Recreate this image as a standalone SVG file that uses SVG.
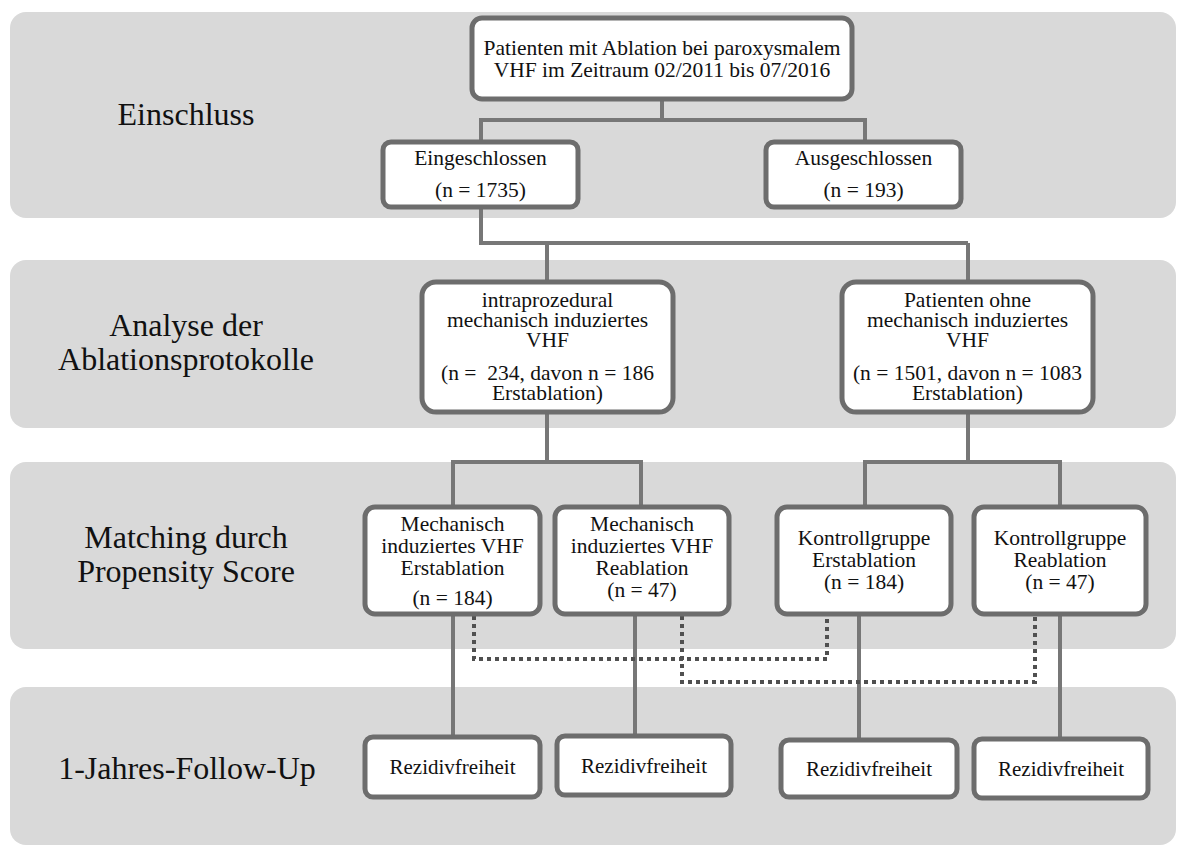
<svg xmlns="http://www.w3.org/2000/svg" width="1178" height="846" viewBox="0 0 1178 846">
<style>
.band{fill:#d9d9d9;}
.box{fill:#ffffff;stroke:#6d6d6d;stroke-width:5;}
.lbl{font-family:"Liberation Serif","Times New Roman",serif;font-size:32px;fill:#111;text-anchor:middle;}
.t{font-family:"Liberation Serif","Times New Roman",serif;font-size:21.5px;fill:#111;text-anchor:middle;}
.r{font-family:"Liberation Serif","Times New Roman",serif;font-size:21px;fill:#111;text-anchor:middle;}
.ln{fill:none;stroke:#777777;stroke-width:4;}
.dot{fill:none;stroke:#505050;stroke-width:4;stroke-dasharray:4 4;}
</style>
<rect width="1178" height="846" fill="#ffffff"/>
<g id="bands">
<rect class="band" x="10" y="12" width="1166" height="206" rx="16"/>
<rect class="band" x="10" y="260" width="1166" height="168" rx="16"/>
<rect class="band" x="10" y="462" width="1166" height="187" rx="16"/>
<rect class="band" x="10" y="687" width="1166" height="158" rx="16"/>
</g>
<g id="labels">
<text class="lbl" x="186" y="125">Einschluss</text>
<text class="lbl" x="186" y="336">Analyse der</text>
<text class="lbl" x="186" y="370">Ablationsprotokolle</text>
<text class="lbl" x="186" y="548">Matching durch</text>
<text class="lbl" x="186" y="582">Propensity Score</text>
<text class="lbl" x="187" y="779">1-Jahres-Follow-Up</text>
</g>
<g id="connectors">
<path class="ln" d="M662,99 V120 M481,142 V120 H865 V142"/>
<path class="ln" d="M481,207 V243 H968 M547,243 V282 M968,243 V282"/>
<path class="ln" d="M547,412 V462 M453,507 V462 H641 V507"/>
<path class="ln" d="M968,412 V462 M865,507 V462 H1060 V507"/>
<path class="ln" d="M453,614 V737 M635,614 V736 M859,614 V740 M1060,614 V739"/>
<path class="dot" d="M474,616 V659 H827 V616"/>
<path class="dot" d="M682,616 V682 H1035 V616"/>
</g>
<g id="n-start">
<rect class="box" x="472" y="18" width="380" height="81" rx="10"/>
<text class="t" x="662" y="55">Patienten mit Ablation bei paroxysmalem</text>
<text class="t" x="662" y="77">VHF im Zeitraum 02/2011 bis 07/2016</text>
</g>
<g id="n-eingeschlossen">
<rect class="box" x="383" y="142" width="195" height="65" rx="8"/>
<text class="t" x="480.5" y="165">Eingeschlossen</text>
<text class="t" x="480.5" y="197">(n = 1735)</text>
</g>
<g id="n-ausgeschlossen">
<rect class="box" x="766" y="142" width="195" height="65" rx="8"/>
<text class="t" x="863.5" y="165">Ausgeschlossen</text>
<text class="t" x="863.5" y="197">(n = 193)</text>
</g>
<g id="n-intra">
<rect class="box" x="422" y="282" width="251" height="130" rx="14"/>
<text class="t" x="547.5" y="307">intraprozedural</text>
<text class="t" x="547.5" y="327">mechanisch induziertes</text>
<text class="t" x="547.5" y="347">VHF</text>
<text class="t" x="547.5" y="380" xml:space="preserve">(n =  234, davon n = 186</text>
<text class="t" x="547.5" y="400">Erstablation)</text>
</g>
<g id="n-ohne">
<rect class="box" x="842" y="282" width="251" height="130" rx="14"/>
<text class="t" x="967.5" y="307">Patienten ohne</text>
<text class="t" x="967.5" y="327">mechanisch induziertes</text>
<text class="t" x="967.5" y="347">VHF</text>
<text class="t" x="967.5" y="380">(n = 1501, davon n = 1083</text>
<text class="t" x="967.5" y="400">Erstablation)</text>
</g>
<g id="n-mech-erst">
<rect class="box" x="365" y="507" width="175" height="107" rx="10"/>
<text class="t" x="452.5" y="531">Mechanisch</text>
<text class="t" x="452.5" y="553">induziertes VHF</text>
<text class="t" x="452.5" y="575">Erstablation</text>
<text class="t" x="452.5" y="605">(n = 184)</text>
</g>
<g id="n-mech-rea">
<rect class="box" x="555" y="507" width="174" height="107" rx="10"/>
<text class="t" x="642" y="531">Mechanisch</text>
<text class="t" x="642" y="553">induziertes VHF</text>
<text class="t" x="642" y="575">Reablation</text>
<text class="t" x="642" y="597">(n = 47)</text>
</g>
<g id="n-kontroll-erst">
<rect class="box" x="777" y="507" width="174" height="107" rx="10"/>
<text class="t" x="864" y="545">Kontrollgruppe</text>
<text class="t" x="864" y="567">Erstablation</text>
<text class="t" x="864" y="589">(n = 184)</text>
</g>
<g id="n-kontroll-rea">
<rect class="box" x="974" y="507" width="172" height="107" rx="10"/>
<text class="t" x="1060" y="545">Kontrollgruppe</text>
<text class="t" x="1060" y="567">Reablation</text>
<text class="t" x="1060" y="589">(n = 47)</text>
</g>
<g id="n-rez1">
<rect class="box" x="365" y="737" width="175" height="60" rx="8"/>
<text class="r" x="452.5" y="774">Rezidivfreiheit</text>
</g>
<g id="n-rez2">
<rect class="box" x="557" y="736" width="174" height="59" rx="8"/>
<text class="r" x="644" y="773">Rezidivfreiheit</text>
</g>
<g id="n-rez3">
<rect class="box" x="781" y="740" width="176" height="57" rx="8"/>
<text class="r" x="869" y="776">Rezidivfreiheit</text>
</g>
<g id="n-rez4">
<rect class="box" x="974" y="739" width="174" height="59" rx="8"/>
<text class="r" x="1061" y="776">Rezidivfreiheit</text>
</g>
</svg>
